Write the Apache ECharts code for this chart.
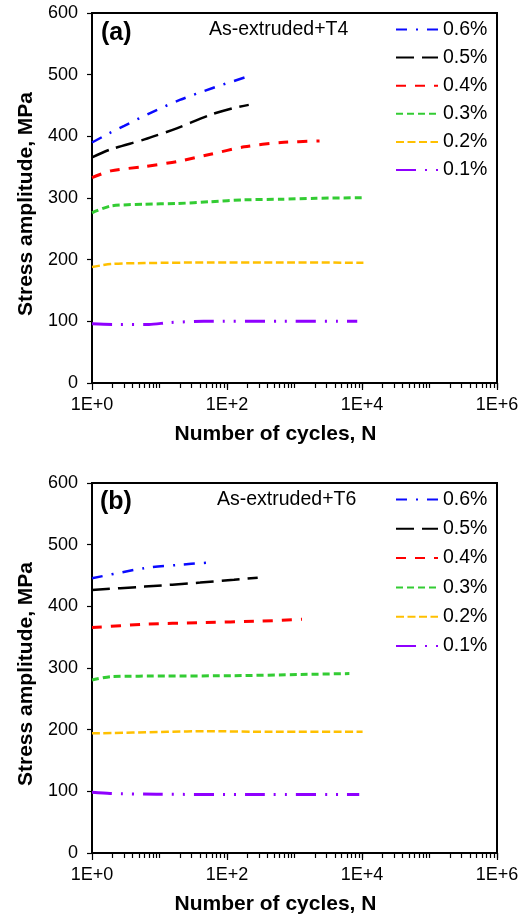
<!DOCTYPE html>
<html>
<head>
<meta charset="utf-8">
<script src="https://cdn.jsdelivr.net/npm/echarts@6/dist/echarts.min.js"></script>
<style>
  html, body { margin: 0; padding: 0; background: #fff; }
  #chart { width: 530px; height: 918px; }
</style>
</head>
<body>
<div id="chart"></div>
<script>
// strain amplitudes (legend)
const names = ['0.6%', '0.5%', '0.4%', '0.3%', '0.2%', '0.1%']

// (a) As-extruded+T4 : [cycles, stress amplitude MPa]
const t4_06 = [[1, 390], [1.8, 405], [3, 417], [7, 437], [20, 459], [60, 478], [190, 496]]
const t4_05 = [[1, 366], [1.9, 379], [6, 395], [18, 413], [57, 435], [126, 446], [210, 451]]
const t4_04 = [[1, 333], [1.9, 344], [6, 351], [18, 359], [57, 371], [180, 383], [630, 390], [2350, 392.5]]
const t4_03 = [[1, 276], [1.9, 287], [6, 290], [18, 291], [57, 294], [180, 297], [630, 298], [2100, 299.5], [10500, 300.5]]
const t4_02 = [[1, 188], [1.9, 193], [6, 194.5], [57, 195.5], [630, 195.5], [10500, 195]]
const t4_01 = [[1, 96], [2.1, 95], [7, 95], [14, 98], [45, 100], [600, 100], [8500, 100]]

// (b) As-extruded+T6
const t6_06 = [[1, 445.5], [6, 462], [18, 467], [53, 471]]
const t6_05 = [[1, 426.5], [6, 432], [40, 438.5], [127, 443], [285, 446.5]]
const t6_04 = [[1, 365.5], [6, 371], [40, 373.5], [315, 376], [1290, 379]]
const t6_03 = [[1, 280.5], [1.9, 286], [13, 287], [127, 287.5], [1240, 289.5], [6500, 291]]
const t6_02 = [[1, 194], [13, 196.5], [50, 197.5], [400, 196.5], [10200, 196.5]]
const t6_01 = [[1, 98.5], [1.85, 96.5], [9, 95.3], [280, 94.8], [9100, 94.8]]

const majorTicks = [1, 100, 10000, 1000000]

const minorTicks = []
for (let d = 1; d < 1000000; d *= 10) {
  for (let k = 2; k <= 10; k++) minorTicks.push(d * k)
}

const font = 'Liberation Sans, Arial, sans-serif'

// line look per strain level
const styles = [
  { color: '#0a0aff', width: 2.5, type: [11, 9, 2, 9] },
  { color: '#000000', width: 2.5, type: [18, 8] },
  { color: '#ff0000', width: 3, type: [10, 9] },
  { color: '#33cc33', width: 3, type: [7, 4] },
  { color: '#ffc000', width: 2.5, type: [8, 3.5] },
  { color: '#8f00ff', width: 3, type: [20, 9, 2, 9, 2, 9] }
]

function mainX(gridIndex) {
  return {
    type: 'log', logBase: 10, gridIndex: gridIndex, min: 1, max: 1000000,
    name: 'Number of cycles, N', nameLocation: 'middle', nameGap: 41,
    nameTextStyle: { fontFamily: font, fontSize: 21, fontWeight: 'bold', color: '#000', padding: [0, 38, 0, 0] },
    axisLine: { lineStyle: { color: '#000', width: 2 } },
    axisTick: { customValues: majorTicks, length: 7, lineStyle: { color: '#000', width: 1.2 } },
    axisLabel: {
      customValues: majorTicks, margin: 13, fontFamily: font, fontSize: 18, color: '#000',
      formatter: v => '1E+' + Math.round(Math.log10(v))
    },
    splitLine: { show: false }
  }
}

function minorX(gridIndex) {
  return {
    type: 'log', logBase: 10, gridIndex: gridIndex, min: 1, max: 1000000, position: 'bottom',
    axisLine: { show: false },
    axisTick: { customValues: minorTicks, length: 5, lineStyle: { color: '#000', width: 1.2 } },
    axisLabel: { show: false },
    splitLine: { show: false }
  }
}

function yAx(gridIndex) {
  return {
    type: 'value', gridIndex: gridIndex, min: 0, max: 600, interval: 100,
    name: 'Stress amplitude, MPa', nameLocation: 'middle', nameGap: 55,
    nameTextStyle: { fontFamily: font, fontSize: 21, fontWeight: 'bold', color: '#000', padding: [0, 12, 0, 0] },
    axisLine: { show: true, lineStyle: { color: '#000', width: 2 } },
    axisTick: { show: true, length: 5, lineStyle: { color: '#000', width: 1.2 } },
    axisLabel: { margin: 14, fontFamily: font, fontSize: 18, color: '#000' },
    splitLine: { show: false }
  }
}

function mkSeries(data, i, panel) {
  return {
    name: names[i], type: 'line', data: data,
    xAxisIndex: panel, yAxisIndex: panel,
    showSymbol: false, symbol: 'none', smooth: 0.25,
    lineStyle: { color: styles[i].color, width: styles[i].width, type: styles[i].type },
    itemStyle: { color: styles[i].color }
  }
}

function mkLegend(top, gap) {
  return {
    orient: 'vertical', left: 395, top: top, padding: 0,
    itemWidth: 42, itemHeight: 14, itemGap: gap,
    itemStyle: { opacity: 0 },
    textStyle: { fontFamily: font, fontSize: 19.5, color: '#000' },
    data: names, selectedMode: false
  }
}

const chart = echarts.init(document.getElementById('chart'))
const seriesA = [t4_06, t4_05, t4_04, t4_03, t4_02, t4_01]
const seriesB = [t6_06, t6_05, t6_04, t6_03, t6_02, t6_01]

chart.setOption({
  animation: false,
  backgroundColor: '#fff',
  grid: [
    { left: 92, top: 13, width: 405, height: 370, show: true, borderColor: '#000', borderWidth: 2 },
    { left: 92, top: 483, width: 405, height: 370, show: true, borderColor: '#000', borderWidth: 2 }
  ],
  xAxis: [mainX(0), mainX(1), minorX(0), minorX(1)],
  yAxis: [yAx(0), yAx(1)],
  legend: [mkLegend(19.5, 8.1), mkLegend(489.5, 9.3)],
  graphic: [
    { type: 'text', left: 101, top: 21, style: { text: '(a)', fontFamily: font, fontSize: 25, fontWeight: 'bold', fill: '#000' } },
    { type: 'text', left: 209, top: 20, style: { text: 'As-extruded+T4', fontFamily: font, fontSize: 19.5, fill: '#000' } },
    { type: 'text', left: 100, top: 490, style: { text: '(b)', fontFamily: font, fontSize: 25, fontWeight: 'bold', fill: '#000' } },
    { type: 'text', left: 217, top: 490, style: { text: 'As-extruded+T6', fontFamily: font, fontSize: 19.5, fill: '#000' } }
  ],
  series: seriesA.map((d, i) => mkSeries(d, i, 0)).concat(seriesB.map((d, i) => mkSeries(d, i, 1)))
})
</script>
</body>
</html>
